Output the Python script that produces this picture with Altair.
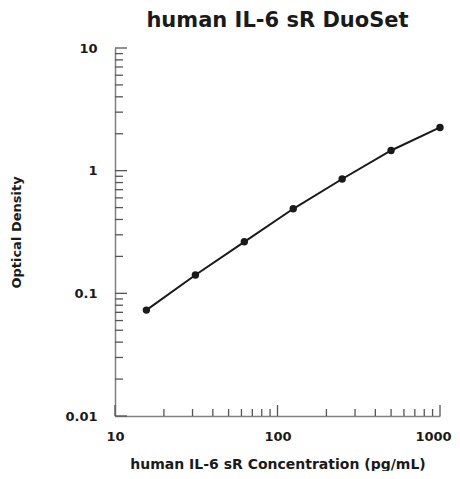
import altair as alt
import pandas as pd

# data
concentration = [15.6, 31.25, 62.5, 125, 250, 500, 1000]
optical_density = [0.073, 0.141, 0.263, 0.489, 0.855, 1.46, 2.25]

x_major = [10, 100, 1000]
x_minor = [20, 30, 40, 50, 60, 70, 80, 90, 200, 300, 400, 500, 600, 700, 800, 900]
y_major = [0.01, 0.1, 1, 10]
y_minor = [m * d for d in [0.01, 0.1, 1] for m in range(2, 10)]

W, H = 325, 368
FONT = "DejaVu Sans"

xscale = alt.Scale(type="log", domain=[10, 1000], nice=False)
yscale = alt.Scale(type="log", domain=[0.01, 10], nice=False)

df = pd.DataFrame({"conc": concentration, "od": optical_density})

base = alt.Chart(df)

line = base.mark_line(color="#1a1a1a", strokeWidth=2).encode(
    x=alt.X("conc:Q", scale=xscale,
            axis=alt.Axis(title="human IL-6 sR Concentration (pg/mL)", values=x_major,
                          format="~g", ticks=False, grid=False, labelPadding=14,
                          labelFlush=False, titlePadding=14,
                          labelOffset={"condition": {"test": "datum.value >= 1000", "value": -7},
                                       "value": 0})),
    y=alt.Y("od:Q", scale=yscale,
            axis=alt.Axis(title="Optical Density", values=y_major, format="~g",
                          ticks=False, grid=False, labelPadding=18, labelFlush=False,
                          titlePadding=41)),
)
points = base.mark_circle(color="#1a1a1a", size=55, opacity=1).encode(
    x=alt.X("conc:Q", scale=xscale), y=alt.Y("od:Q", scale=yscale)
)

def yticks(vals, length):
    return alt.Chart(pd.DataFrame({"v": vals})).mark_rule(color="#555555", strokeWidth=1.3).encode(
        y=alt.Y("v:Q", scale=yscale), x=alt.value(0), x2=alt.value(length)
    )

def xticks(vals, length):
    return alt.Chart(pd.DataFrame({"v": vals})).mark_rule(color="#555555", strokeWidth=1.3).encode(
        x=alt.X("v:Q", scale=xscale), y=alt.value(H), y2=alt.value(H - length)
    )

chart = alt.layer(
    yticks(y_major, 12), yticks(y_minor, 8), xticks(x_major, 11), xticks(x_minor, 7),
    line, points
).properties(
    width=W, height=H,
    title=alt.TitleParams("human IL-6 sR DuoSet", font=FONT, fontSize=21, fontWeight="bold",
                          color="#1a1a1a", anchor="middle", offset=11),
    autosize=alt.AutoSizeParams(type="none"),
    padding={"left": 107, "top": 40, "right": 12, "bottom": 55},
).configure_view(stroke=None).configure_axis(
    domainColor="#808080", domainWidth=1.5,
    labelFont=FONT, labelFontSize=13, labelFontWeight="bold", labelColor="#1a1a1a",
    titleFont=FONT, titleFontSize=13, titleFontWeight="bold", titleColor="#1a1a1a",
).configure_axisX(titleFontSize=14)

chart.save("out.html", embed_options={"renderer": "svg", "actions": False})
